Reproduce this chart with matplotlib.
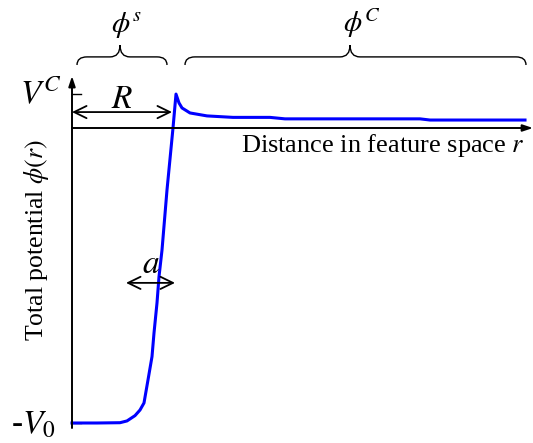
import matplotlib
matplotlib.use("Agg")
from matplotlib import pyplot as plt
from matplotlib.path import Path
from matplotlib.patches import PathPatch

plt.rcParams['font.family'] = 'serif'
plt.rcParams['font.serif'] = ['Liberation Serif', 'DejaVu Serif']
plt.rcParams['mathtext.fontset'] = 'stix'

# potential curve: distance r (in units of R) and phi(r) (in units of V0)
r = [0.0, 0.25, 0.48, 0.55, 0.63, 0.68, 0.72, 0.76, 0.80, 0.82, 0.85, 0.87,
     0.90, 0.95, 1.01, 1.04, 1.07, 1.10, 1.18, 1.35, 1.61, 1.98, 2.13, 3.48,
     3.58, 4.53]
phi = [-1.000, -1.000, -0.999, -0.993, -0.975, -0.956, -0.932, -0.854, -0.775,
       -0.695, -0.593, -0.504, -0.414, -0.210, 0.0, 0.115, 0.085, 0.068, 0.051,
       0.041, 0.036, 0.036, 0.031, 0.031, 0.027, 0.027]

R = 1.0
V_C = 0.115
V_0 = 1.0
a_left, a_right = 0.54, 1.03


def brace(ax, x0, x1, xt, y_end, y_mid, y_tip, rx=0.1):
    """Curly brace opening downward, tip at xt."""
    verts = [(x0, y_end), (x0, y_mid), (x0 + rx, y_mid),
             (xt - rx, y_mid),
             (xt, y_mid), (xt, y_tip),
             (xt, y_mid), (xt + rx, y_mid),
             (x1 - rx, y_mid),
             (x1, y_mid), (x1, y_end)]
    codes = [Path.MOVETO, Path.CURVE3, Path.CURVE3,
             Path.LINETO,
             Path.CURVE3, Path.CURVE3,
             Path.CURVE3, Path.CURVE3,
             Path.LINETO,
             Path.CURVE3, Path.CURVE3]
    ax.add_patch(PathPatch(Path(verts, codes), fill=False, lw=1.0, color='black'))


fig = plt.figure(figsize=(5.33, 4.43), dpi=100)
ax = fig.add_axes([0, 0, 1, 1])
ax.set_xlim(-0.72, 4.61)
ax.set_ylim(-1.0678, 0.4339)
ax.axis('off')

# axes with arrow heads
ax.annotate('', xy=(0, 0.176), xytext=(0, -1.017),
            arrowprops=dict(arrowstyle='-|>,head_length=0.6,head_width=0.2',
                            lw=1.4, color='black', shrinkA=0, shrinkB=0,
                            mutation_scale=10))
ax.annotate('', xy=(4.61, 0), xytext=(0, 0),
            arrowprops=dict(arrowstyle='-|>,head_length=0.6,head_width=0.2',
                            lw=1.4, color='black', shrinkA=0, shrinkB=0,
                            mutation_scale=10))
ax.plot([0, 0.09], [V_C, V_C], color='black', lw=1.0)
ax.plot([0, 0.09], [-V_0, -V_0], color='black', lw=1.0)

ax.plot(r, phi, color='#0000ff', lw=2.2, solid_joinstyle='round')

# R and a markers
ax.annotate('', xy=(R, 0.054), xytext=(0, 0.054),
            arrowprops=dict(arrowstyle='<->,head_length=0.45,head_width=0.22',
                            lw=1.3, color='black', shrinkA=0, shrinkB=0,
                            mutation_scale=20))
ax.annotate('', xy=(a_right, -0.525), xytext=(a_left, -0.525),
            arrowprops=dict(arrowstyle='<->,head_length=0.45,head_width=0.22',
                            lw=1.3, color='black', shrinkA=0, shrinkB=0,
                            mutation_scale=20))
ax.text(R / 2, 0.068, '$R$', fontsize=24, ha='center', va='baseline')
ax.text((a_left + a_right) / 2, -0.49, '$a$', fontsize=24, ha='center', va='baseline')

ax.text(-0.10, 0.085, '$V^C$', fontsize=24, ha='right', va='baseline')
ax.text(-0.16, -1.034, r'-$V_{\mathit{0}}$', fontsize=24, ha='right', va='baseline')

# region braces
brace(ax, 0.05, 0.95, 0.48, 0.2136, 0.241, 0.281)
brace(ax, 1.13, 4.54, 2.78, 0.2136, 0.241, 0.281)
ax.text(0.55, 0.325, r'$\phi^s$', fontsize=21, ha='center', va='baseline')
ax.text(2.90, 0.325, r'$\phi^C$', fontsize=21, ha='center', va='baseline')

ax.text(3.11, -0.058, 'Distance in feature space $r$', fontsize=19,
        ha='center', va='center')
ax.text(-0.35, -0.38, r'Total potential $\phi(r)$', fontsize=18.5,
        ha='center', va='center', rotation=90)

fig.savefig('out.png', dpi=100)
